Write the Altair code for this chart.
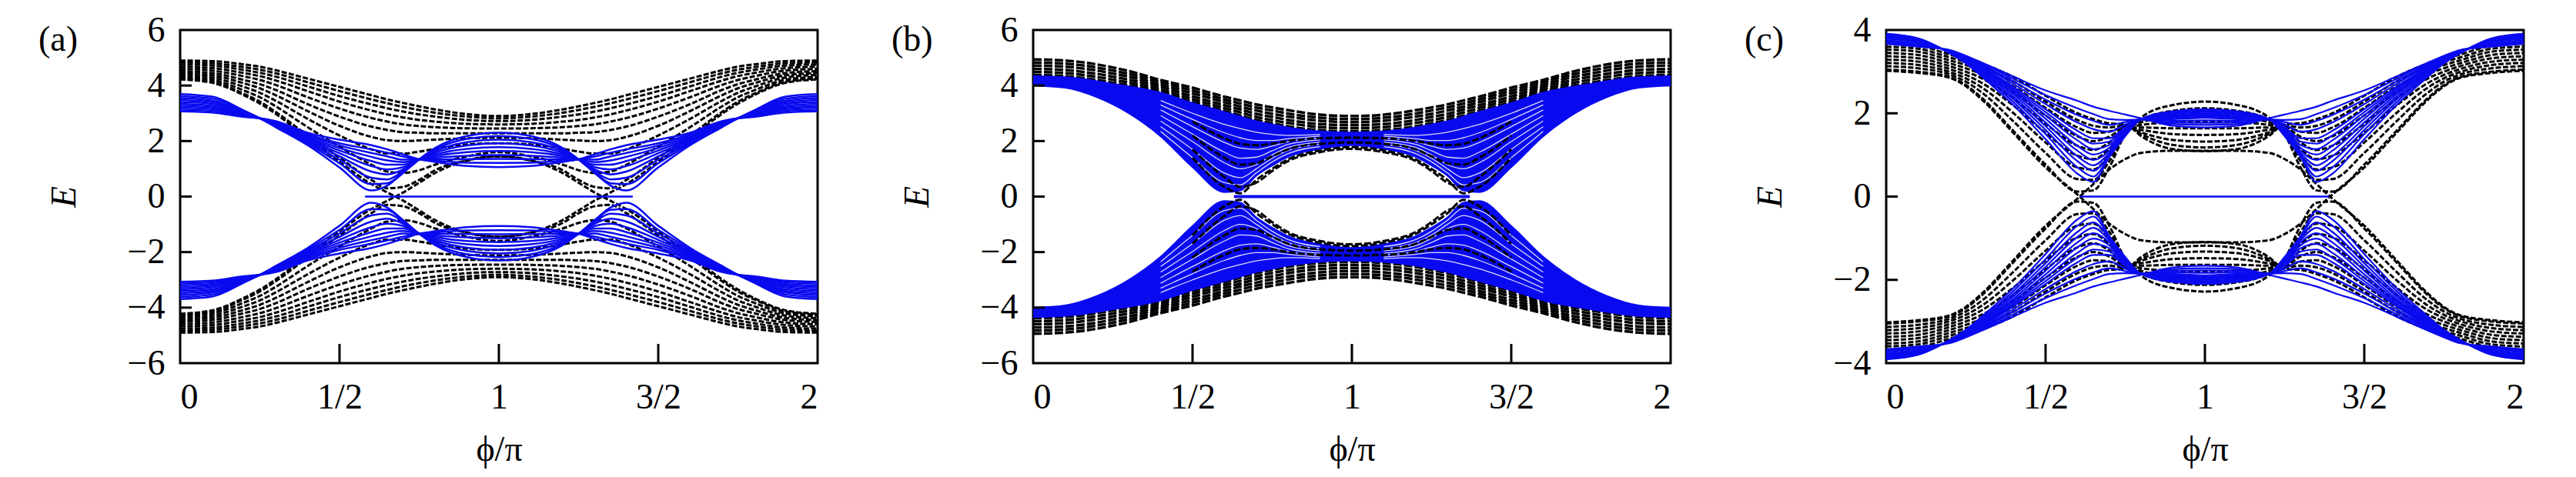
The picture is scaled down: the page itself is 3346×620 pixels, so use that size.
import altair as alt
import pandas as pd

# phi/pi sample positions (left half; right half is the mirror image phi -> 2-phi)
PHI = [0, 0.1, 0.2, 0.25, 0.3, 0.4, 0.5, 0.6, 0.65, 0.7, 0.75, 0.8, 0.9, 1.0]

# ---------- panel (a): upper band ----------
A_BLACK = [
    [4.90, 4.88, 4.76, 4.68, 4.55, 4.25, 3.95, 3.65, 3.50, 3.37, 3.25, 3.14, 2.97, 2.90],
    [4.83, 4.80, 4.66, 4.57, 4.44, 4.12, 3.80, 3.50, 3.36, 3.23, 3.12, 3.02, 2.88, 2.82],
    [4.76, 4.72, 4.56, 4.46, 4.32, 3.97, 3.62, 3.32, 3.18, 3.06, 2.96, 2.88, 2.76, 2.72],
    [4.68, 4.63, 4.45, 4.34, 4.18, 3.80, 3.42, 3.10, 2.96, 2.85, 2.76, 2.70, 2.62, 2.60],
    [4.60, 4.54, 4.33, 4.20, 4.02, 3.58, 3.17, 2.83, 2.70, 2.60, 2.54, 2.50, 2.46, 2.45],
    [4.52, 4.45, 4.20, 4.05, 3.84, 3.33, 2.88, 2.52, 2.40, 2.32, 2.30, 2.28, 2.28, 2.28],
    [4.45, 4.37, 4.08, 3.90, 3.65, 3.08, 2.55, 2.15, 2.03, 2.00, 2.02, 2.05, 2.10, 2.12],
    [4.38, 4.29, 3.95, 3.74, 3.45, 2.80, 2.20, 1.70, 1.55, 1.55, 1.62, 1.72, 1.88, 1.92],
    [4.31, 4.21, 3.82, 3.58, 3.25, 2.50, 1.80, 1.15, 0.90, 0.85, 0.95, 1.15, 1.45, 1.60],
    [4.25, 4.14, 3.70, 3.42, 3.05, 2.20, 1.40, 0.60, 0.30, 0.35, 0.60, 0.95, 1.30, 1.45],
    [4.22, 4.10, 3.65, 3.35, 2.98, 2.10, 1.25, 0.45, 0.15, -0.15, -0.50, -0.85, -1.30, -1.45],
]
A_BLUE = [
    [3.69, 3.60, 3.10, 2.82, 2.50, 1.85, 1.05, 0.22, 0.40, 0.85, 1.34, 1.75, 2.18, 2.30],
    [3.62, 3.53, 3.08, 2.82, 2.52, 1.90, 1.20, 0.45, 0.48, 0.88, 1.34, 1.70, 2.08, 2.18],
    [3.55, 3.46, 3.05, 2.82, 2.54, 1.95, 1.33, 0.68, 0.62, 0.92, 1.34, 1.64, 1.96, 2.05],
    [3.48, 3.40, 3.03, 2.82, 2.56, 2.00, 1.45, 0.90, 0.80, 0.98, 1.34, 1.58, 1.84, 1.92],
    [3.41, 3.34, 3.00, 2.82, 2.58, 2.05, 1.56, 1.10, 0.98, 1.06, 1.34, 1.52, 1.72, 1.78],
    [3.34, 3.27, 2.97, 2.82, 2.60, 2.10, 1.66, 1.28, 1.15, 1.15, 1.34, 1.46, 1.60, 1.64],
    [3.27, 3.21, 2.94, 2.82, 2.63, 2.15, 1.75, 1.43, 1.30, 1.24, 1.34, 1.40, 1.47, 1.50],
    [3.20, 3.15, 2.92, 2.82, 2.66, 2.20, 1.84, 1.57, 1.45, 1.33, 1.34, 1.34, 1.35, 1.36],
    [3.13, 3.09, 2.89, 2.82, 2.69, 2.25, 1.92, 1.70, 1.58, 1.44, 1.34, 1.29, 1.22, 1.21],
    [3.07, 3.03, 2.87, 2.82, 2.72, 2.30, 2.05, 1.85, 1.70, 1.52, 1.34, 1.25, 1.10, 1.06],
]
A_ZERO = [0.58, 1.42]

# ---------- panel (b) ----------
B_BLACK = [
    [4.94, 4.90, 4.76, 4.65, 4.52, 4.20, 3.92, 3.60, 3.46, 3.32, 3.21, 3.11, 2.95, 2.90],
    [4.83, 4.79, 4.65, 4.54, 4.42, 4.12, 3.82, 3.50, 3.35, 3.21, 3.10, 2.99, 2.84, 2.79],
    [4.72, 4.68, 4.54, 4.43, 4.32, 4.03, 3.72, 3.40, 3.24, 3.10, 2.98, 2.88, 2.73, 2.68],
    [4.60, 4.56, 4.42, 4.32, 4.21, 3.95, 3.61, 3.29, 3.14, 2.98, 2.87, 2.76, 2.61, 2.57],
    [4.49, 4.45, 4.31, 4.21, 4.11, 3.86, 3.51, 3.19, 3.03, 2.87, 2.75, 2.65, 2.50, 2.46],
    [4.38, 4.34, 4.20, 4.10, 4.01, 3.78, 3.41, 3.09, 2.92, 2.76, 2.64, 2.53, 2.39, 2.35],
]
B_BLACK_INNER = [
    [4.05, 3.98, 3.68, 3.46, 3.18, 2.45, 1.40, 0.35, 0.12, 0.60, 1.00, 1.34, 1.66, 1.78],
    [4.08, 4.01, 3.72, 3.52, 3.26, 2.60, 1.70, 0.70, 0.35, 0.50, 0.92, 1.28, 1.60, 1.72],
    [4.12, 4.07, 3.82, 3.66, 3.45, 2.90, 2.20, 1.40, 1.15, 1.20, 1.45, 1.70, 1.90, 1.95],
    [4.16, 4.11, 3.88, 3.74, 3.56, 3.10, 2.70, 2.10, 1.90, 1.85, 1.90, 2.00, 2.10, 2.12],
]
B_BLUE = [
    [4.34, 4.30, 4.16, 4.06, 3.97, 3.74, 3.37, 3.05, 2.88, 2.72, 2.60, 2.49, 2.35, 2.31],
    [4.30, 4.26, 4.10, 4.00, 3.87, 3.60, 3.18, 2.85, 2.70, 2.56, 2.44, 2.36, 2.29, 2.28],
    [4.26, 4.22, 4.04, 3.93, 3.78, 3.46, 3.00, 2.60, 2.45, 2.32, 2.24, 2.20, 2.24, 2.25],
    [4.22, 4.18, 3.98, 3.85, 3.68, 3.30, 2.78, 2.30, 2.12, 2.02, 2.02, 2.08, 2.18, 2.20],
    [4.18, 4.14, 3.92, 3.77, 3.57, 3.12, 2.52, 1.95, 1.75, 1.70, 1.82, 1.98, 2.11, 2.14],
    [4.14, 4.10, 3.85, 3.69, 3.46, 2.92, 2.25, 1.60, 1.38, 1.42, 1.65, 1.88, 2.04, 2.08],
    [4.10, 4.06, 3.78, 3.60, 3.35, 2.72, 1.98, 1.22, 1.00, 1.15, 1.50, 1.77, 1.96, 2.02],
    [4.06, 4.01, 3.71, 3.50, 3.22, 2.52, 1.70, 0.85, 0.68, 1.00, 1.38, 1.66, 1.88, 1.96],
    [4.03, 3.96, 3.64, 3.40, 3.10, 2.35, 1.40, 0.50, 0.42, 0.85, 1.25, 1.55, 1.80, 1.90],
    [4.00, 3.92, 3.58, 3.32, 3.00, 2.17, 1.06, 0.16, 0.22, 0.75, 1.12, 1.43, 1.72, 1.85],
]
B_ZERO = [0.63, 1.37]

# ---------- panel (c) ----------
C_BLACK = [
    [3.05, 3.00, 2.87, 2.68, 2.37, 1.57, 0.77, 0.12, 0.15, 0.70, 1.50, 1.90, 2.20, 2.28],
    [3.13, 3.08, 2.93, 2.76, 2.50, 1.80, 1.05, 0.42, 0.40, 0.85, 1.53, 1.84, 2.06, 2.12],
    [3.21, 3.16, 2.99, 2.84, 2.62, 2.00, 1.30, 0.70, 0.65, 1.00, 1.56, 1.78, 1.92, 1.96],
    [3.29, 3.24, 3.06, 2.92, 2.73, 2.18, 1.53, 0.98, 0.90, 1.15, 1.59, 1.72, 1.78, 1.80],
    [3.37, 3.32, 3.13, 3.00, 2.84, 2.35, 1.75, 1.22, 1.12, 1.30, 1.62, 1.66, 1.64, 1.64],
    [3.45, 3.40, 3.20, 3.08, 2.94, 2.50, 1.95, 1.45, 1.33, 1.44, 1.65, 1.60, 1.50, 1.48],
    [3.53, 3.48, 3.27, 3.16, 3.03, 2.64, 2.13, 1.66, 1.53, 1.56, 1.68, 1.54, 1.36, 1.32],
    [3.60, 3.55, 3.34, 3.23, 3.11, 2.76, 2.28, 1.84, 1.70, 1.66, 1.71, 1.50, 1.24, 1.18],
    [3.67, 3.62, 3.41, 3.30, 3.19, 2.87, 2.42, 2.00, 1.86, 1.76, 1.74, 1.45, 1.14, 1.09],
    [3.02, 2.97, 2.85, 2.65, 2.33, 1.52, 0.70, 0.05, -0.30, -0.65, -0.90, -1.05, -1.10, -1.10],
]
C_BLUE = [
    [3.91, 3.80, 3.44, 3.20, 2.88, 2.19, 1.38, 0.55, 0.35, 0.95, 1.45, 1.86, 2.05, 2.10],
    [3.90, 3.79, 3.44, 3.21, 2.92, 2.26, 1.50, 0.70, 0.48, 0.97, 1.47, 1.86, 2.03, 2.08],
    [3.88, 3.78, 3.45, 3.23, 2.96, 2.33, 1.60, 0.85, 0.62, 1.00, 1.50, 1.86, 2.00, 2.05],
    [3.87, 3.77, 3.45, 3.24, 2.99, 2.39, 1.69, 0.97, 0.75, 1.05, 1.52, 1.86, 1.98, 2.03],
    [3.85, 3.75, 3.46, 3.26, 3.02, 2.45, 1.78, 1.10, 0.88, 1.10, 1.55, 1.86, 1.95, 2.00],
    [3.84, 3.74, 3.46, 3.27, 3.05, 2.50, 1.87, 1.22, 1.01, 1.17, 1.57, 1.86, 1.93, 1.98],
    [3.82, 3.72, 3.47, 3.28, 3.07, 2.55, 1.95, 1.35, 1.14, 1.24, 1.60, 1.86, 1.90, 1.95],
    [3.81, 3.71, 3.47, 3.29, 3.09, 2.59, 2.03, 1.47, 1.27, 1.32, 1.63, 1.86, 1.88, 1.92],
    [3.79, 3.70, 3.48, 3.30, 3.11, 2.63, 2.10, 1.58, 1.40, 1.40, 1.67, 1.86, 1.86, 1.89],
    [3.76, 3.67, 3.49, 3.32, 3.14, 2.70, 2.22, 1.78, 1.62, 1.56, 1.73, 1.85, 1.82, 1.83],
    [3.73, 3.64, 3.50, 3.34, 3.17, 2.76, 2.33, 1.96, 1.82, 1.72, 1.79, 1.85, 1.78, 1.77],
    [3.70, 3.62, 3.51, 3.36, 3.20, 2.82, 2.44, 2.12, 1.98, 1.86, 1.84, 1.85, 1.74, 1.72],
    [3.67, 3.60, 3.52, 3.38, 3.22, 2.88, 2.55, 2.30, 2.16, 2.06, 1.97, 1.88, 1.70, 1.66],
]
C_ZERO = [0.61, 1.39]

X_TICKS = [0, 0.5, 1, 1.5, 2]
X_INNER = [0.5, 1, 1.5]
AB_Y_TICKS = [-6, -4, -2, 0, 2, 4, 6]
AB_Y_INNER = [-4, -2, 0, 2, 4]
C_Y_TICKS = [-4, -2, 0, 2, 4]
C_Y_INNER = [-2, 0, 2]

W, H = 828, 433
FONT = "Liberation Serif"
FS = 46
BLUE = "#0a0af0"
PHI_FULL = PHI + [2 - p for p in reversed(PHI[:-1])]


def mirror(vals):
    return list(vals) + list(reversed(vals[:-1]))


def band_frame(lines, prefix):
    rows = []
    for i, vals in enumerate(lines):
        es = mirror(vals)
        for sign, tag in ((1, "u"), (-1, "l")):
            for p, e in zip(PHI_FULL, es):
                side = "L" if p < 1 else "R"
                rows.append({"phi": p, "E": sign * e, "line": f"{prefix}{tag}{i}",
                             "seg": f"{prefix}{tag}{i}{side}"})
    return pd.DataFrame(rows)


def area_frame(top, bottom):
    rows = []
    t, b = mirror(top), mirror(bottom)
    for p, hi, lo in zip(PHI_FULL, t, b):
        rows.append({"phi": p, "E": hi, "E2": lo, "band": "u"})
        rows.append({"phi": p, "E": -hi, "E2": -lo, "band": "l"})
    return pd.DataFrame(rows)


def scales(ydom, yticks):
    xs = alt.Scale(domain=[0, 2], nice=False, zero=False)
    ys = alt.Scale(domain=ydom, nice=False, zero=False)
    x = alt.X("phi:Q", scale=xs, axis=alt.Axis(
        values=X_TICKS, title="ϕ/π",
        labelExpr="datum.value == 0.5 ? '1/2' : datum.value == 1.5 ? '3/2' : "
                  "datum.value == 0 ? '0' : datum.value == 1 ? '1' : '2'"))
    y = alt.Y("E:Q", scale=ys, axis=alt.Axis(values=yticks, title="E", format="d"))
    return x, y


def black_layer(df, x, y, dash, bw):
    return alt.Chart(df).mark_line(
        color="black", strokeWidth=bw, strokeDash=dash, interpolate="monotone", clip=True
    ).encode(x=x, y=y, detail="line:N")


def blue_layer(df, x, y, w):
    return alt.Chart(df).mark_line(
        color=BLUE, strokeWidth=w, interpolate="monotone", clip=True
    ).encode(x=x, y=y, detail="line:N")


def decor(label, x, y, zero, yinner, zw):
    zl = alt.Chart(pd.DataFrame({"phi": zero, "E": [0, 0]})).mark_line(
        color=BLUE, strokeWidth=zw
    ).encode(x=x, y=y)
    xt = alt.Chart(pd.DataFrame({"phi": X_INNER})).mark_rule(
        color="black", strokeWidth=3
    ).encode(x=x, y=alt.value(H), y2=alt.value(H - 25))
    yt = alt.Chart(pd.DataFrame({"E": yinner})).mark_rule(
        color="black", strokeWidth=3
    ).encode(y=y, x=alt.value(0), x2=alt.value(15))
    lab = alt.Chart(pd.DataFrame({"t": [label]})).mark_text(
        align="left", baseline="top", font=FONT, fontSize=FS, color="black"
    ).encode(text="t:N", x=alt.value(-184), y=alt.value(-9))
    return [zl, xt, yt, lab]


# panel (a)
xa, ya = scales([-6, 6], AB_Y_TICKS)
pa = alt.layer(
    black_layer(band_frame(A_BLACK, "k"), xa, ya, [7, 2.5], 3),
    blue_layer(band_frame(A_BLUE, "b"), xa, ya, 2.5),
    *decor("(a)", xa, ya, A_ZERO, AB_Y_INNER, 2.5),
).properties(width=W, height=H)

# panel (b)
xb, yb = scales([-6, 6], AB_Y_TICKS)
b_area = alt.Chart(area_frame(B_BLUE[0], B_BLUE[-1])).mark_area(
    color=BLUE, interpolate="monotone", clip=True
).encode(x=xb, y=yb, y2="E2:Q", detail="band:N")
b_streak_df = band_frame(B_BLUE[2:9], "s")
b_streak_df = b_streak_df[((b_streak_df.phi >= 0.4) & (b_streak_df.phi <= 0.9)) |
                          ((b_streak_df.phi >= 1.1) & (b_streak_df.phi <= 1.6))]
b_streak = alt.Chart(b_streak_df).mark_line(
    color="white", strokeWidth=1.3, opacity=0.85, interpolate="monotone", clip=True
).encode(x=xb, y=yb, detail="seg:N")
b_inner_df = band_frame(B_BLACK_INNER, "i")
b_inner_df = b_inner_df[(b_inner_df.phi >= 0.5) & (b_inner_df.phi <= 1.5)]
pb = alt.layer(
    black_layer(band_frame(B_BLACK, "k"), xb, yb, [11, 3], 3.5),
    b_area,
    blue_layer(band_frame(B_BLUE, "b"), xb, yb, 2),
    b_streak,
    black_layer(b_inner_df, xb, yb, [9, 3], 3),
    *decor("(b)", xb, yb, B_ZERO, AB_Y_INNER, 4),
).properties(width=W, height=H)

# panel (c)
xc, yc = scales([-4, 4], C_Y_TICKS)
pc = alt.layer(
    black_layer(band_frame(C_BLACK, "k"), xc, yc, [7, 2.5], 3),
    blue_layer(band_frame(C_BLUE, "b"), xc, yc, 2.2),
    *decor("(c)", xc, yc, C_ZERO, C_Y_INNER, 2.5),
).properties(width=W, height=H)

chart = alt.hconcat(pa, pb, pc, spacing=280, bounds="flush").properties(
    padding={"left": 40, "top": 6, "right": 0, "bottom": 0}
).configure_view(
    stroke="black", strokeWidth=3
).configure_axis(
    domain=False, ticks=False, grid=False,
    labelFont=FONT, labelFontSize=FS, labelColor="black",
    titleFont=FONT, titleFontSize=FS, titleColor="black", titleFontWeight="normal",
).configure_axisX(
    labelPadding=22, titlePadding=23
).configure_axisY(
    labelPadding=20, titlePadding=58, titleFontStyle="italic"
)

chart.save("out.html", embed_options={"renderer": "svg", "actions": False})
